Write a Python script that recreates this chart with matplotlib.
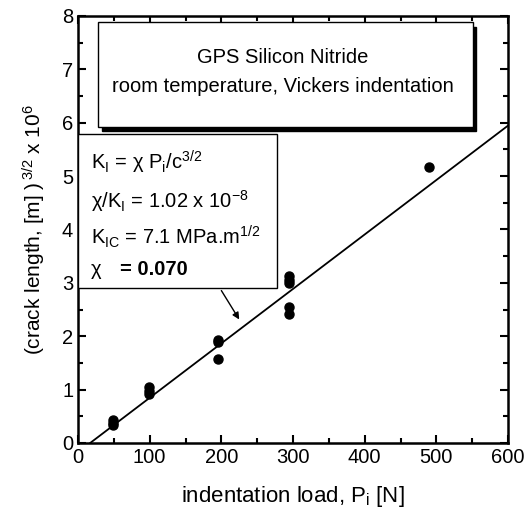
import matplotlib
matplotlib.use("Agg")
import matplotlib.pyplot as plt
from matplotlib.patches import Rectangle
from matplotlib.ticker import MultipleLocator
import numpy as np

plt.rcParams['font.family'] = ['Liberation Sans', 'DejaVu Sans']
plt.rcParams['mathtext.fontset'] = 'custom'
plt.rcParams['mathtext.rm'] = 'Liberation Sans'
plt.rcParams['mathtext.it'] = 'Liberation Sans:italic'
plt.rcParams['mathtext.bf'] = 'Liberation Sans:bold'

# data
load = [49, 49, 49, 99, 99, 99, 195, 195, 195, 294, 294, 294, 294, 294, 490]
crack = [0.44, 0.38, 0.34, 1.04, 0.97, 0.91, 1.93, 1.90, 1.58, 3.12, 3.05, 3.00, 2.55, 2.42, 5.17]
fit_x = [17, 600]
fit_slope = 0.0102

fig = plt.figure(figsize=(5.27, 5.16), dpi=100)
ax = fig.add_axes([0.148, 0.1415, 0.816, 0.8275])

ax.plot(load, crack, 'o', color='black', markersize=6.5)
fx = np.array(fit_x, dtype=float)
ax.plot(fx, fit_slope * (fx - fit_x[0]), color='black', lw=1.3)

ax.set_xlim(0, 600)
ax.set_ylim(0, 8)
ax.xaxis.set_major_locator(MultipleLocator(100))
ax.xaxis.set_minor_locator(MultipleLocator(50))
ax.yaxis.set_major_locator(MultipleLocator(1))
ax.yaxis.set_minor_locator(MultipleLocator(0.5))
ax.tick_params(which='both', direction='in', top=True, right=True, labelsize=14.5, width=1.5)
ax.tick_params(which='major', length=6)
ax.tick_params(which='minor', length=3.5)
for s in ax.spines.values():
    s.set_linewidth(1.8)

ax.set_xlabel(r'indentation load, P$_\mathrm{i}$ [N]', fontsize=16, labelpad=12)
ax.set_ylabel(r'(crack length, [m] )$^{\,3/2}$ x 10$^6$', fontsize=15, labelpad=10)

# box 1 with shadow
ax.add_patch(Rectangle((33, 5.84), 523, 1.95, facecolor='black', edgecolor='black', zorder=4))
ax.add_patch(Rectangle((28, 5.92), 523, 1.96, facecolor='white', edgecolor='black', lw=1.0, zorder=5))
ax.text(286, 7.12, 'GPS Silicon Nitride', ha='center', va='baseline', fontsize=14.5, zorder=6)
ax.text(286, 6.57, 'room temperature, Vickers indentation', ha='center', va='baseline', fontsize=14.5, zorder=6)

# box 2
ax.add_patch(Rectangle((0, 2.9), 278, 2.89, facecolor='white', edgecolor='black', lw=1.0, zorder=5))
tx = 18
fs = 14.5
ax.text(tx, 5.13, r'K$_\mathrm{I}$ = χ P$_\mathrm{i}$/c$^{3/2}$', fontsize=fs, va='baseline', zorder=6)
ax.text(tx, 4.40, r'χ/K$_\mathrm{I}$ = 1.02 x 10$^{-8}$', fontsize=fs, va='baseline', zorder=6)
ax.text(tx, 3.72, r'K$_\mathrm{IC}$ = 7.1 MPa.m$^{1/2}$', fontsize=fs, va='baseline', zorder=6)
ax.text(tx, 3.15, 'χ', fontsize=fs, va='baseline', zorder=6)
ax.text(58, 3.15, '= 0.070', fontsize=fs, fontweight='bold', va='baseline', zorder=6)

ax.annotate('', xy=(227, 2.27), xytext=(198, 2.9),
            arrowprops=dict(arrowstyle='-|>', color='black', lw=1.0, mutation_scale=10), zorder=6)

fig.savefig('out.png', dpi=100)
